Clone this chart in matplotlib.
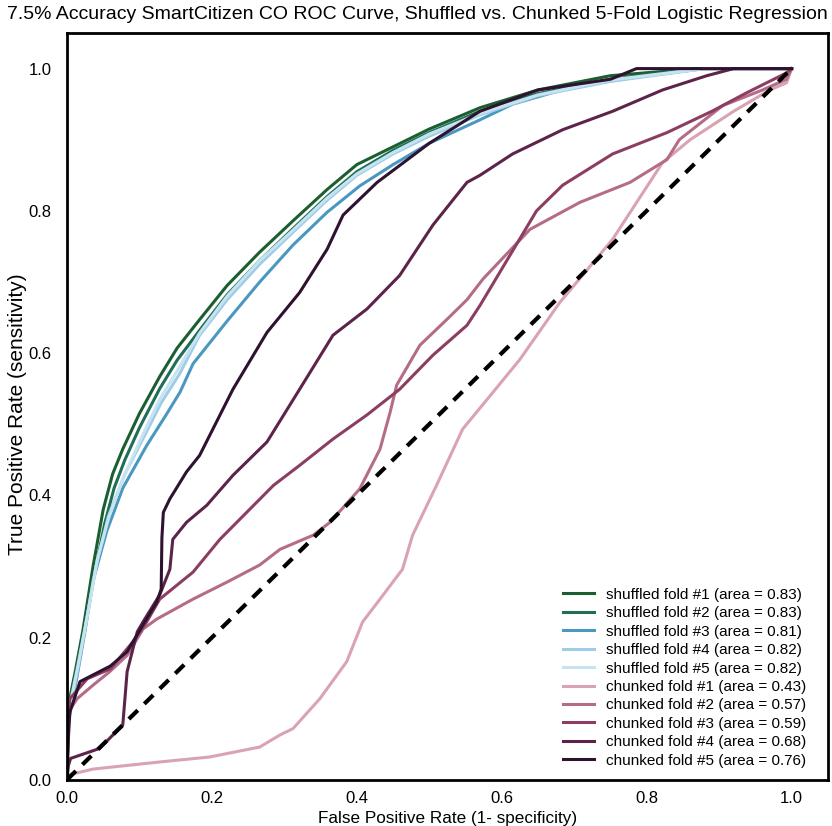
import matplotlib
matplotlib.use('Agg')
import matplotlib.pyplot as plt

plt.rcParams['font.family'] = ['Liberation Sans', 'DejaVu Sans']

# ROC curves (fpr, tpr)
sh1_fpr = [0, 0, 0.005, 0.011, 0.022, 0.036, 0.05, 0.063, 0.077, 0.1, 0.128, 0.152, 0.183, 0.221, 0.266, 0.312, 0.359, 0.40, 0.45, 0.5, 0.57, 0.65, 0.75, 0.87, 1]
sh1_tpr = [0, 0.09, 0.12, 0.15, 0.21, 0.30, 0.38, 0.43, 0.465, 0.515, 0.567, 0.607, 0.647, 0.695, 0.742, 0.786, 0.83, 0.865, 0.89, 0.915, 0.945, 0.97, 0.99, 1.0, 1]
sh2_fpr = [0, 0, 0.005, 0.012, 0.024, 0.038, 0.052, 0.065, 0.08, 0.1, 0.128, 0.152, 0.183, 0.221, 0.266, 0.312, 0.359, 0.40, 0.45, 0.5, 0.57, 0.65, 0.75, 0.87, 1]
sh2_tpr = [0, 0.08, 0.11, 0.15, 0.21, 0.29, 0.36, 0.41, 0.45, 0.495, 0.55, 0.59, 0.632, 0.682, 0.73, 0.775, 0.82, 0.855, 0.885, 0.91, 0.94, 0.965, 0.985, 1.0, 1]
sh3_fpr = [0, 0, 0.005, 0.013, 0.025, 0.036, 0.055, 0.077, 0.11, 0.138, 0.156, 0.174, 0.221, 0.266, 0.312, 0.359, 0.404, 0.45, 0.5, 0.57, 0.615, 0.7, 0.8, 0.88, 1]
sh3_tpr = [0, 0.07, 0.10, 0.14, 0.21, 0.28, 0.35, 0.41, 0.47, 0.515, 0.545, 0.585, 0.645, 0.70, 0.752, 0.798, 0.835, 0.865, 0.895, 0.928, 0.95, 0.975, 0.99, 1.0, 1]
sh4_fpr = [0, 0, 0.006, 0.014, 0.026, 0.04, 0.057, 0.08, 0.105, 0.13, 0.155, 0.183, 0.221, 0.266, 0.312, 0.359, 0.40, 0.45, 0.5, 0.57, 0.65, 0.75, 0.88, 1]
sh4_tpr = [0, 0.075, 0.11, 0.15, 0.22, 0.30, 0.37, 0.43, 0.48, 0.53, 0.57, 0.625, 0.675, 0.725, 0.77, 0.815, 0.85, 0.88, 0.905, 0.935, 0.962, 0.982, 1.0, 1]
sh5_fpr = [0, 0, 0.007, 0.015, 0.028, 0.042, 0.058, 0.078, 0.1, 0.128, 0.155, 0.183, 0.221, 0.266, 0.312, 0.359, 0.40, 0.45, 0.5, 0.57, 0.65, 0.75, 0.88, 1]
sh5_tpr = [0, 0.085, 0.12, 0.16, 0.23, 0.31, 0.37, 0.425, 0.475, 0.535, 0.58, 0.628, 0.68, 0.73, 0.773, 0.818, 0.852, 0.882, 0.908, 0.937, 0.963, 0.984, 1.0, 1]

ch1_fpr = [0, 0.003, 0.036, 0.128, 0.197, 0.266, 0.294, 0.312, 0.349, 0.386, 0.408, 0.432, 0.463, 0.477, 0.51, 0.546, 0.588, 0.625, 0.68, 0.753, 0.822, 0.86, 0.92, 0.97, 0.993, 1]
ch1_tpr = [0, 0.007, 0.015, 0.025, 0.032, 0.046, 0.063, 0.072, 0.114, 0.166, 0.222, 0.254, 0.296, 0.344, 0.414, 0.493, 0.545, 0.591, 0.671, 0.76, 0.868, 0.9, 0.94, 0.97, 0.98, 1]
ch2_fpr = [0, 0.002, 0.005, 0.014, 0.036, 0.059, 0.083, 0.105, 0.124, 0.174, 0.221, 0.266, 0.294, 0.34, 0.363, 0.404, 0.432, 0.446, 0.455, 0.487, 0.524, 0.552, 0.574, 0.639, 0.708, 0.777, 0.828, 0.845, 0.905, 0.96, 0.993, 1]
ch2_tpr = [0, 0.08, 0.1, 0.114, 0.133, 0.152, 0.175, 0.212, 0.226, 0.254, 0.278, 0.302, 0.324, 0.344, 0.362, 0.409, 0.465, 0.517, 0.555, 0.611, 0.647, 0.675, 0.704, 0.774, 0.812, 0.84, 0.872, 0.90, 0.948, 0.97, 0.985, 1]
ch3_fpr = [0, 0.002, 0.004, 0.028, 0.06, 0.091, 0.11, 0.128, 0.174, 0.211, 0.248, 0.285, 0.321, 0.367, 0.414, 0.459, 0.505, 0.552, 0.57, 0.648, 0.684, 0.753, 0.828, 0.89, 0.938, 0.993, 1]
ch3_tpr = [0, 0.09, 0.114, 0.142, 0.156, 0.194, 0.222, 0.254, 0.292, 0.338, 0.376, 0.414, 0.442, 0.479, 0.513, 0.549, 0.597, 0.639, 0.667, 0.80, 0.836, 0.88, 0.91, 0.94, 0.966, 0.994, 1]
ch4_fpr = [0, 0.002, 0.005, 0.045, 0.077, 0.083, 0.097, 0.105, 0.128, 0.142, 0.146, 0.165, 0.193, 0.229, 0.276, 0.321, 0.367, 0.414, 0.459, 0.505, 0.552, 0.57, 0.615, 0.684, 0.753, 0.822, 0.883, 0.92, 1]
ch4_tpr = [0, 0.02, 0.03, 0.044, 0.077, 0.152, 0.208, 0.222, 0.26, 0.296, 0.338, 0.362, 0.386, 0.428, 0.475, 0.549, 0.625, 0.662, 0.709, 0.78, 0.84, 0.85, 0.88, 0.914, 0.94, 0.97, 0.99, 1.0, 1]
ch5_fpr = [0, 0.002, 0.004, 0.018, 0.06, 0.083, 0.105, 0.124, 0.13, 0.131, 0.133, 0.142, 0.165, 0.183, 0.229, 0.276, 0.321, 0.359, 0.381, 0.428, 0.5, 0.57, 0.65, 0.75, 0.786, 1]
ch5_tpr = [0, 0.06, 0.095, 0.138, 0.16, 0.18, 0.218, 0.25, 0.268, 0.34, 0.376, 0.395, 0.433, 0.456, 0.549, 0.629, 0.685, 0.746, 0.794, 0.84, 0.895, 0.94, 0.97, 0.985, 1.0, 1]

shuffled_auc = [0.83, 0.83, 0.81, 0.82, 0.82]
chunked_auc = [0.43, 0.57, 0.59, 0.68, 0.76]

shuffled = [(sh1_fpr, sh1_tpr), (sh2_fpr, sh2_tpr), (sh3_fpr, sh3_tpr), (sh4_fpr, sh4_tpr), (sh5_fpr, sh5_tpr)]
chunked = [(ch1_fpr, ch1_tpr), (ch2_fpr, ch2_tpr), (ch3_fpr, ch3_tpr), (ch4_fpr, ch4_tpr), (ch5_fpr, ch5_tpr)]

shuffled_colors = ['#1b5e30', '#1f6e55', '#4a98c0', '#9fcde8', '#c6e4f0']
chunked_colors = ['#d9a3b3', '#b56c88', '#8c3d62', '#5c2448', '#2e1230']

fig = plt.figure(figsize=(8.32, 8.26), dpi=100)
ax = fig.add_axes([0.0805, 0.056, 0.9145, 0.904])

for i, (fpr, tpr) in enumerate(shuffled):
    ax.plot(fpr, tpr, color=shuffled_colors[i], lw=2.2,
            label='shuffled fold #%d (area = %.2f)' % (i + 1, shuffled_auc[i]))
for i, (fpr, tpr) in enumerate(chunked):
    ax.plot(fpr, tpr, color=chunked_colors[i], lw=2.2,
            label='chunked fold #%d (area = %.2f)' % (i + 1, chunked_auc[i]))

# chance line
ax.plot([0, 1], [0, 1], 'k--', lw=3, dashes=(3, 2.2))

ax.set_xlim(0, 1.05)
ax.set_ylim(0, 1.05)
ax.set_xticks([0, 0.2, 0.4, 0.6, 0.8, 1.0])
ax.set_yticks([0, 0.2, 0.4, 0.6, 0.8, 1.0])
ax.tick_params(length=0, labelsize=12)
ax.tick_params(axis='x', pad=8)
ax.tick_params(axis='y', pad=11)
for s in ax.spines.values():
    s.set_linewidth(2)

ax.set_xlabel('False Positive Rate (1- specificity)', fontsize=12.3, labelpad=4)
ax.set_ylabel('True Positive Rate (sensitivity)', fontsize=15, labelpad=5)
ax.yaxis.set_label_coords(-0.053, 0.49)
fig.text(0.502, 0.982, '7.5% Accuracy SmartCitizen CO ROC Curve, Shuffled vs. Chunked 5-Fold Logistic Regression',
         fontsize=14, ha='center', va='center')

ax.legend(loc='lower right', bbox_to_anchor=(0.98, 0.008), frameon=False, fontsize=11,
          handlelength=2.0, labelspacing=0.29, borderaxespad=0)

fig.savefig('out.png', dpi=100)
